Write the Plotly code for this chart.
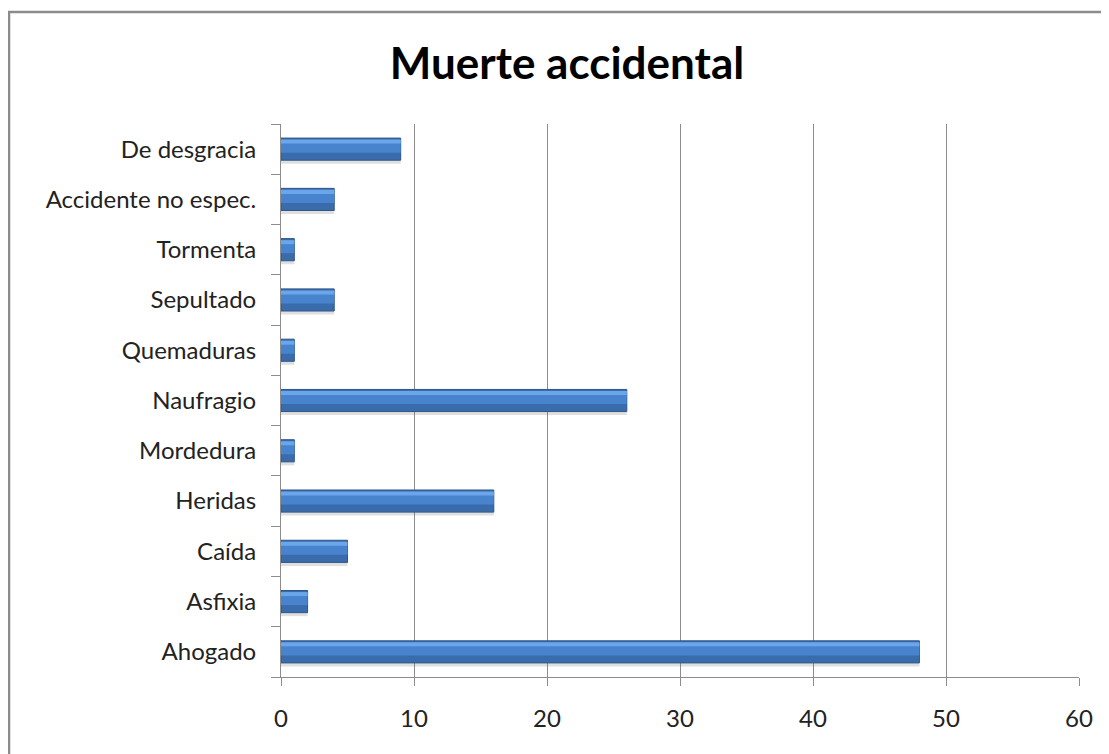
import plotly.graph_objects as go

categories = ["Ahogado", "Asfixia", "Caída", "Heridas", "Mordedura", "Naufragio",
              "Quemaduras", "Sepultado", "Tormenta", "Accidente no espec.", "De desgracia"]
values = [48, 2, 5, 16, 1, 26, 1, 4, 1, 4, 9]
x_ticks = [0, 10, 20, 30, 40, 50, 60]
title_text = "Muerte accidental"

# page body has an 8px margin; size the figure so it ends at the window edge
OFF = 8
W, H = 1109 - OFF, 754 - OFF
L, R, T, B = 281 - OFF, 30, 124 - OFF, 77
FONT = "Lato, 'Open Sans', sans-serif"

fig = go.Figure()
# soft shadow
fig.add_trace(go.Bar(y=categories, x=values, orientation="h", width=0.44, offset=-0.29,
                     marker=dict(color="rgba(110,110,110,0.22)", line=dict(width=0)),
                     hoverinfo="skip", showlegend=False))
# main bar (darker lower body)
fig.add_trace(go.Bar(y=categories, x=values, orientation="h", width=0.44, offset=-0.22,
                     marker=dict(color="#3A6CAB", line=dict(color="#2D5689", width=1)),
                     showlegend=False))
# middle body
fig.add_trace(go.Bar(y=categories, x=values, orientation="h", width=0.24, offset=-0.07,
                     marker=dict(color="#4883CD", line=dict(width=0)),
                     hoverinfo="skip", showlegend=False))
# top highlight bevel
fig.add_trace(go.Bar(y=categories, x=values, orientation="h", width=0.08, offset=0.11,
                     marker=dict(color="#6CA6EA", line=dict(width=0)),
                     hoverinfo="skip", showlegend=False))

pw = W - L - R
ph = H - T - B
# chart frame: only the top and left edges fall inside the picture
fig.add_shape(type="rect", xref="paper", yref="paper",
              x0=(9 - OFF - L) / pw, x1=(W + 20 - L) / pw,
              y0=-(B + 20) / ph, y1=1 + (T - (12 - OFF)) / ph,
              line=dict(color="#8C8C8C", width=2.5), layer="below")

fig.update_layout(
    width=W, height=H,
    margin=dict(l=L, r=R, t=T, b=B),
    paper_bgcolor="white", plot_bgcolor="white",
    barmode="overlay",
    title=dict(text="<b>" + title_text + "</b>", x=(567 - OFF) / W, xanchor="center",
               xref="container", y=1 - (64 - OFF) / H, yanchor="middle",
               font=dict(family=FONT, size=44, color="black")),
    font=dict(family=FONT, size=24, color="#222222"),
    xaxis=dict(range=[0, 60], tickvals=x_ticks, showgrid=True, gridcolor="#8C8C8C", gridwidth=1,
               showline=True, linecolor="#8C8C8C", linewidth=1, ticks="outside", ticklen=8,
               tickcolor="#8C8C8C", zeroline=False, ticklabelstandoff=12,
               tickfont=dict(size=24, color="#222222"), fixedrange=True, automargin=False),
    yaxis=dict(categoryorder="array", categoryarray=categories, showgrid=False,
               showline=True, linecolor="#8C8C8C", linewidth=1, ticks="outside", ticklen=9,
               tickcolor="#8C8C8C", ticklabelstandoff=19,
               tickson="boundaries", range=[-0.5, len(categories) - 0.5],
               tickfont=dict(size=24, color="#222222"), fixedrange=True, automargin=False),
)

fig.write_html("out.html")
